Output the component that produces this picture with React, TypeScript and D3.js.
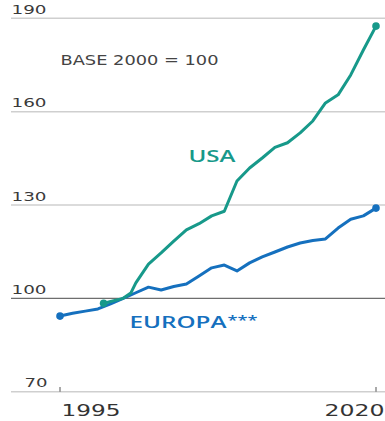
import React from "react";
import * as d3 from "d3";

const europeYears = [1995, 1996, 1997, 1998, 1999, 2000, 2001, 2002, 2003, 2004, 2005, 2006, 2007, 2008, 2009, 2010, 2011, 2012, 2013, 2014, 2015, 2016, 2017, 2018, 2019, 2020];
const europeValues = [94.3, 95.2, 95.9, 96.6, 98.2, 100, 101.8, 103.6, 102.7, 103.8, 104.6, 107.2, 109.8, 110.7, 108.8, 111.4, 113.3, 114.9, 116.5, 117.8, 118.6, 119.1, 122.6, 125.4, 126.5, 129];

const usaYears = [1998.45, 1999, 2000, 2000.6, 2001, 2002, 2003, 2004, 2005, 2006, 2007, 2008, 2009, 2010, 2011, 2012, 2013, 2014, 2015, 2016, 2017, 2018, 2019, 2020];
const usaValues = [98.4, 99.0, 100, 101.7, 105, 111, 114.6, 118.4, 122, 124, 126.5, 128, 137.7, 141.9, 145.1, 148.5, 150, 153.2, 157, 162.8, 165.4, 171.8, 179.8, 187.5];

const yTicks = [70, 100, 130, 160, 190];
const xTickYears = [1995, 2020];
const xTickLabels = ["1995", "2020"];

const TEAL = "#17998a";
const BLUE = "#1570be";

export default function App() {
  const x = d3.scaleLinear().domain([1995, 2020]).range([60, 376]);
  const y = d3.scaleLinear().domain([70, 190]).range([391.7, 18.3]);

  const line = d3
    .line<[number, number]>()
    .x((d) => x(d[0]))
    .y((d) => y(d[1]))
    .curve(d3.curveLinear);

  const eu: [number, number][] = europeYears.map((yr, i) => [yr, europeValues[i]]);
  const us: [number, number][] = usaYears.map((yr, i) => [yr, usaValues[i]]);

  const font = "'DejaVu Sans', sans-serif";
  const labelFont = "'Open Sans', 'DejaVu Sans', sans-serif";

  return (
    <svg
      width={385}
      height={421}
      style={{ position: "absolute", left: 0, top: 0, background: "#fff" }}
    >
      {yTicks.map((t) => (
        <g key={t}>
          <line
            x1={11}
            x2={385}
            y1={y(t)}
            y2={y(t)}
            stroke={t === 100 ? "#6e6e6e" : "#cfcfcf"}
            strokeWidth={t === 100 ? 1.3 : 1.5}
          />
          <text
            x={t < 100 ? 24.5 : 11.5}
            y={y(t) - 4.5}
            fontFamily={font}
            fontSize={12.5}
            textLength={t < 100 ? 23 : 35}
            lengthAdjust="spacingAndGlyphs"
            fill="#3a3a3a"
          >
            {t}
          </text>
        </g>
      ))}

      {xTickYears.map((yr, i) => (
        <g key={yr}>
          <line x1={x(yr)} x2={x(yr)} y1={387} y2={391.7} stroke="#555" strokeWidth={1} />
          <text
            x={i === 0 ? 61.5 : 324.5}
            y={415.5}
            fontFamily={font}
            fontSize={16.5}
            textLength={i === 0 ? 59 : 60}
            lengthAdjust="spacingAndGlyphs"
            fill="#333"
          >
            {xTickLabels[i]}
          </text>
        </g>
      ))}

      <text x={60.5} y={65} fontFamily={font} fontSize={13.4} textLength={158} lengthAdjust="spacingAndGlyphs" fill="#444">
        BASE 2000 = 100
      </text>

      <path d={line(eu) || ""} fill="none" stroke={BLUE} strokeWidth={3} strokeLinejoin="round" strokeLinecap="round" />
      <path d={line(us) || ""} fill="none" stroke={TEAL} strokeWidth={3} strokeLinejoin="round" strokeLinecap="round" />

      <circle cx={x(europeYears[0])} cy={y(europeValues[0])} r={3.8} fill={BLUE} />
      <circle cx={x(europeYears[europeYears.length - 1])} cy={y(europeValues[europeValues.length - 1])} r={3.8} fill={BLUE} />
      <circle cx={x(usaYears[0])} cy={y(usaValues[0])} r={3.8} fill={TEAL} />
      <circle cx={x(usaYears[usaYears.length - 1])} cy={y(usaValues[usaValues.length - 1])} r={3.8} fill={TEAL} />

      <text x={188.5} y={161.5} fontFamily={labelFont} fontSize={16} fontWeight={600} textLength={47} lengthAdjust="spacingAndGlyphs" fill={TEAL}>
        USA
      </text>
      <text x={129.5} y={327.5} fontFamily={labelFont} fontSize={16.5} fontWeight={600} fill={BLUE}>
        <tspan textLength={97} lengthAdjust="spacingAndGlyphs">EUROPA</tspan>
        <tspan dx={1} dy={-2.5} fontSize={12.5} textLength={30} lengthAdjust="spacingAndGlyphs">***</tspan>
      </text>
    </svg>
  );
}
